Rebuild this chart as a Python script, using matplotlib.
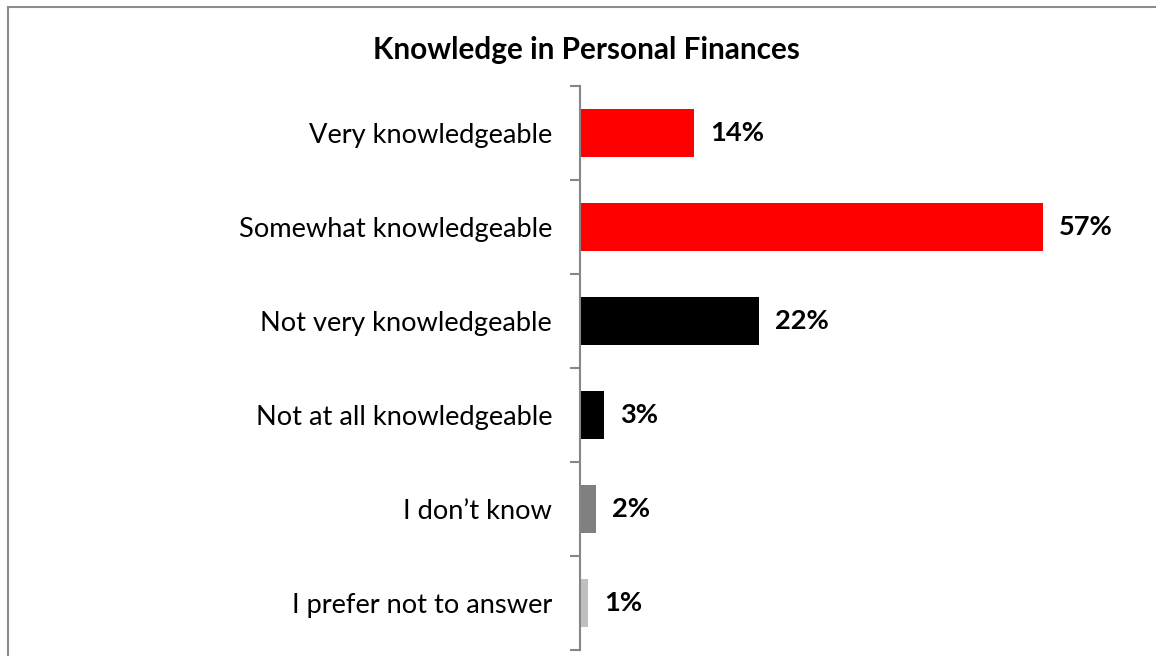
import matplotlib.pyplot as plt
from matplotlib.lines import Line2D
import numpy as np

categories = ['Very knowledgeable', 'Somewhat knowledgeable', 'Not very knowledgeable',
              'Not at all knowledgeable', 'I don\u2019t know', 'I prefer not to answer']
values = [14, 57, 22, 3, 2, 1]
colors = ['#FF0000', '#FF0000', '#000000', '#000000', '#808080', '#C0C0C0']
title = 'Knowledge in Personal Finances'

plt.rcParams['font.family'] = ['Lato', 'DejaVu Sans']

W, H = 1156, 656
fig = plt.figure(figsize=(W / 100, H / 100), dpi=100)

# outer chart frame (only left and top edges are inside the picture)
frameColor = '#8C8C8C'
fig.add_artist(Line2D([8 / W, 8 / W], [0, 1 - 7 / H], transform=fig.transFigure,
                      color=frameColor, lw=1.5))
fig.add_artist(Line2D([8 / W, 1], [1 - 7 / H, 1 - 7 / H], transform=fig.transFigure,
                      color=frameColor, lw=1.5))

axes = fig.add_axes([580 / W, 1 - 650 / H, 520 / W, 564 / H])
y = np.arange(len(categories))
axes.barh(y, values, height=0.51, color=colors)

axes.set_xlim(0, 64)
axes.set_ylim(len(categories) - 0.5, -0.5)
axes.set_yticks(y)
axes.set_yticklabels(categories, fontsize=19.6)
axes.set_yticks(np.arange(len(categories) + 1) - 0.5, minor=True)
axes.tick_params(axis='y', which='major', length=0, pad=20)
axes.tick_params(axis='y', which='minor', length=7, width=1.5, color='#868686', direction='out')
axes.set_xticks([])

for side in ['top', 'right', 'bottom']:
    axes.spines[side].set_visible(False)
axes.spines['left'].set_color('#868686')
axes.spines['left'].set_linewidth(1.5)

for yi, v in zip(y, values):
    axes.annotate('{}%'.format(v), xy=(v, yi), xytext=(11.5, 0), textcoords='offset points',
                  ha='left', va='center', fontsize=19.6, fontweight='bold')

fig.text(586 / W, 1 - 50 / H, title, ha='center', va='center', fontsize=21.4, fontweight='bold')

fig.savefig('out.png', dpi=100)
